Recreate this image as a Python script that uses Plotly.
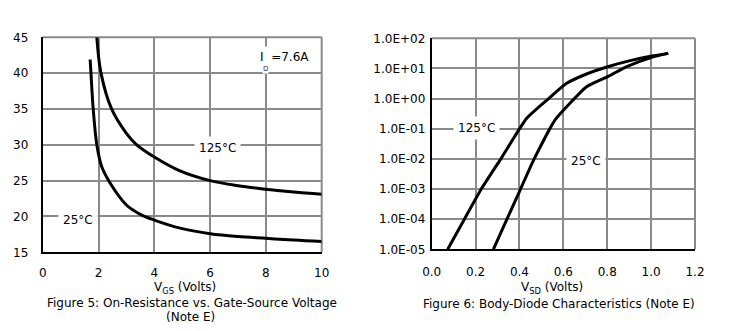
import plotly.graph_objects as go

# ---- Figure 5 data: On-resistance vs gate-source voltage ----
vgs_25 = [1.70, 1.73, 1.81, 1.94, 2.11, 2.41, 3.0, 3.5, 4.0, 5.0, 6.0, 7.0, 8.0, 9.0, 10.0]
rds_25 = [41.9, 40.0, 35.0, 30.0, 27.0, 24.7, 21.6, 20.3, 19.5, 18.3, 17.6, 17.2, 16.95, 16.7, 16.5]
vgs_125 = [1.94, 2.09, 2.47, 3.0, 3.37, 4.0, 4.9, 6.0, 7.0, 8.0, 9.0, 10.0]
rds_125 = [45.0, 40.0, 35.0, 31.6, 30.0, 28.3, 26.4, 25.0, 24.3, 23.8, 23.4, 23.1]

# ---- Figure 6 data: body-diode characteristics ----
vsd_125 = [0.073, 0.149, 0.226, 0.315, 0.433, 0.533, 0.615, 0.70, 0.802, 0.90, 1.003, 1.078]
isd_125 = [1e-5, 1e-4, 1e-3, 1e-2, 0.222, 1.0, 3.2, 6.3, 11.4, 17.8, 25.9, 31.6]
vsd_25 = [0.281, 0.343, 0.405, 0.467, 0.562, 0.63, 0.706, 0.802, 0.889, 1.003, 1.078]
isd_25 = [1e-5, 1e-4, 1e-3, 1e-2, 0.195, 0.70, 2.48, 5.33, 11.5, 23.4, 31.6]

x5_ticks = [0, 2, 4, 6, 8, 10]
y5_ticks = [15, 20, 25, 30, 35, 40, 45]
x6_ticks = [0.0, 0.2, 0.4, 0.6, 0.8, 1.0, 1.2]
x6_labels = ["0.0", "0.2", "0.4", "0.6", "0.8", "1.0", "1.2"]
y6_ticks = [1e-5, 1e-4, 1e-3, 1e-2, 1e-1, 1e0, 1e1, 1e2]
y6_labels = ["1.0E-05", "1.0E-04", "1.0E-03", "1.0E-02", "1.0E-01", "1.0E+00", "1.0E+01", "1.0E+02"]

FONT = "DejaVu Sans, sans-serif"
GRID = "#8a8a8a"
W, H = 754, 331

fig = go.Figure()
line = dict(color="black", width=3, shape="spline", smoothing=1.0)
fig.add_trace(go.Scatter(x=vgs_25, y=rds_25, mode="lines", line=line, xaxis="x", yaxis="y"))
fig.add_trace(go.Scatter(x=vgs_125, y=rds_125, mode="lines", line=line, xaxis="x", yaxis="y"))
line6 = dict(color="black", width=3, shape="spline", smoothing=0.5)
fig.add_trace(go.Scatter(x=vsd_125, y=isd_125, mode="lines", line=line6, xaxis="x2", yaxis="y2"))
fig.add_trace(go.Scatter(x=vsd_25, y=isd_25, mode="lines", line=line6, xaxis="x2", yaxis="y2"))

common = dict(showgrid=True, gridcolor=GRID, gridwidth=1.5, zeroline=False,
              showline=True, linecolor="black", linewidth=2, ticks="",
              automargin=False)
tfont = dict(family=FONT, size=12, color="black")

fig.update_layout(
    width=W, height=H,
    margin=dict(l=0, r=0, t=0, b=0, pad=0),
    paper_bgcolor="white", plot_bgcolor="white",
    showlegend=False,
    font=dict(family=FONT, color="black"),
    xaxis=dict(domain=[42.7 / W, 321.7 / W], range=[0, 10], tickvals=x5_ticks,
               anchor="y", ticklabelstandoff=8, tickfont=tfont, **common),
    yaxis=dict(domain=[1 - 252.3 / H, 1 - 37.3 / H], range=[15, 45], tickvals=y5_ticks,
               anchor="x", ticklabelstandoff=10, tickfont=tfont, **common),
    xaxis2=dict(domain=[431.7 / W, 695 / W], range=[0, 1.2], tickvals=x6_ticks,
                ticktext=x6_labels, anchor="y2", ticklabelstandoff=10, tickfont=tfont, **common),
    yaxis2=dict(domain=[1 - 249.3 / H, 1 - 38.3 / H], type="log", range=[-5, 2],
                tickvals=y6_ticks, ticktext=y6_labels, anchor="x2",
                ticklabelstandoff=2, tickfont=tfont, **common),
)

# border on top/right in grid colour
for xr, yr in [("x domain", "y domain"), ("x2 domain", "y2 domain")]:
    fig.add_shape(type="line", xref=xr, yref=yr, x0=0, x1=1, y0=1, y1=1,
                  line=dict(color=GRID, width=2), layer="below")
    fig.add_shape(type="line", xref=xr, yref=yr, x0=1, x1=1, y0=0, y1=1,
                  line=dict(color=GRID, width=2), layer="below")

lab = dict(showarrow=False, bgcolor="white", xanchor="center", yanchor="middle",
           font=dict(family=FONT, size=12, color="black"))
fig.add_annotation(x=8.65, y=42.3, xref="x", yref="y", text="I  =7.6A", borderpad=3, **lab)
fig.add_annotation(x=8.0, y=40.6, xref="x", yref="y", text="D", borderpad=0,
                   showarrow=False, bgcolor="white", xanchor="center", yanchor="middle",
                   font=dict(family=FONT, size=7, color="#223366"))
fig.add_annotation(x=6.28, y=29.5, xref="x", yref="y", text="125°C", borderpad=4, **lab)
fig.add_annotation(x=1.27, y=19.5, xref="x", yref="y", text="25°C", borderpad=4, **lab)
fig.add_annotation(x=0.206, y=-0.976, xref="x2", yref="y2", text="125°C", borderpad=4, **lab)
fig.add_annotation(x=0.704, y=-2.07, xref="x2", yref="y2", text="25°C", borderpad=4, **lab)

cap = dict(showarrow=False, xref="paper", yref="paper", xanchor="center", yanchor="middle",
           font=dict(family=FONT, size=12, color="black"))
fig.add_annotation(x=184.7 / W, y=1 - 288 / H, text="V<sub>GS</sub> (Volts)", **cap)
fig.add_annotation(x=191.5 / W, y=1 - 302.5 / H, text="Figure 5: On-Resistance vs. Gate-Source Voltage", **cap)
fig.add_annotation(x=190 / W, y=1 - 316.5 / H, text="(Note E)", **cap)
fig.add_annotation(x=552 / W, y=1 - 288 / H, text="V<sub>SD</sub> (Volts)", **cap)
fig.add_annotation(x=559 / W, y=1 - 303.5 / H, text="Figure 6: Body-Diode Characteristics (Note E)", **cap)

fig.write_html("out.html")
